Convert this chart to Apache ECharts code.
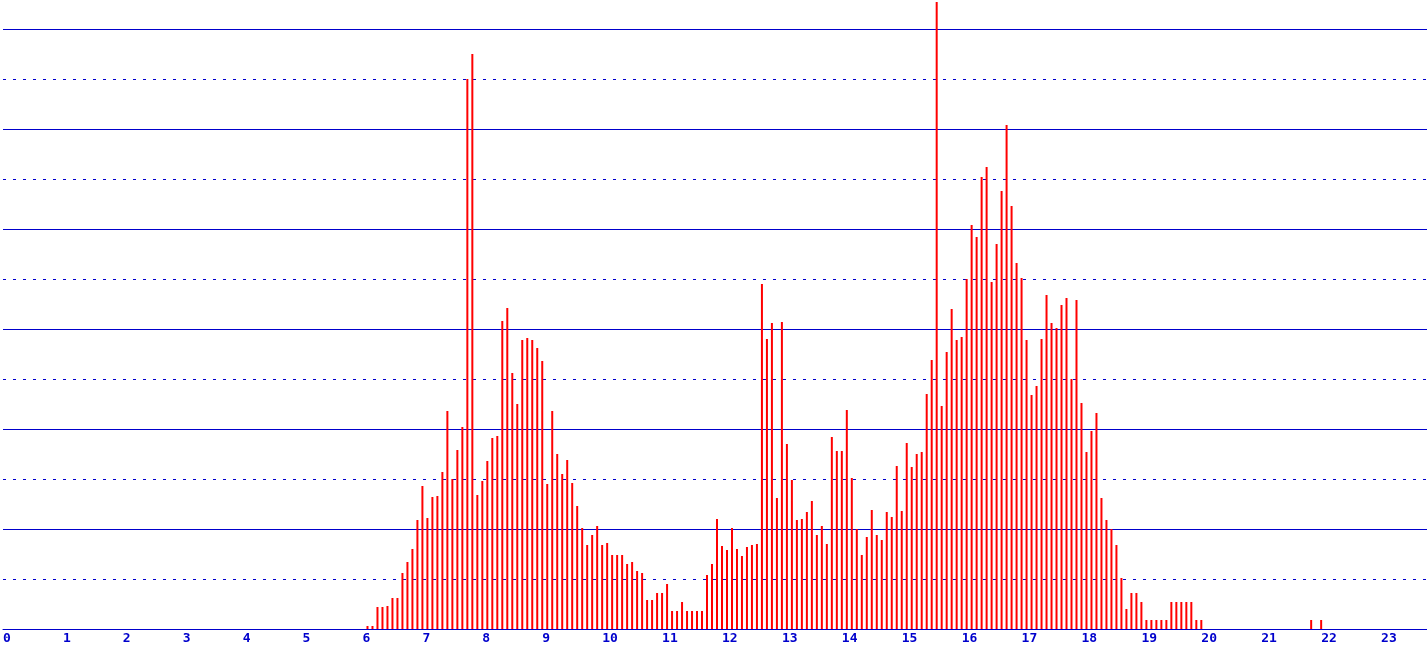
<!DOCTYPE html>
<html>
<head>
<meta charset="utf-8">
<script src="https://cdn.jsdelivr.net/npm/echarts@6/dist/echarts.min.js"></script>
<style>
html,body{margin:0;padding:0;background:#fff;}
#chart{width:1427px;height:649px;}
</style>
</head>
<body>
<div id="chart"></div>
<script>
// Five-minute bins, 12 per hour (bin starts :00, :05, ... :55)
const binMinutes = 5;
const hours = [6, 7, 8, 9, 10, 11, 12, 13, 14, 15, 16, 17, 18, 19, 20, 21];
const h06 = [3, 3, 22, 22, 23, 31, 31, 56, 67, 80, 109, 143];
const h07 = [111, 132, 133, 157, 218, 150, 179, 202, 550, 575, 134, 148];
const h08 = [168, 191, 193, 308, 321, 256, 225, 289, 291, 289, 281, 268];
const h09 = [145, 218, 175, 155, 169, 146, 123, 101, 84, 94, 103, 84];
const h10 = [86, 74, 74, 74, 65, 67, 58, 56, 29, 29, 36, 36];
const h11 = [45, 18, 18, 27, 18, 18, 18, 18, 54, 65, 110, 83];
const h12 = [79, 101, 80, 73, 82, 84, 85, 345, 290, 306, 131, 307];
const h13 = [185, 149, 109, 110, 117, 128, 94, 103, 85, 192, 178, 178];
const h14 = [219, 151, 100, 74, 92, 119, 94, 89, 117, 112, 163, 118];
const h15 = [186, 162, 175, 177, 235, 269, 627, 223, 277, 320, 289, 292];
const h16 = [350, 404, 392, 452, 462, 347, 385, 438, 504, 423, 366, 351];
const h17 = [289, 234, 243, 290, 334, 306, 301, 324, 331, 250, 329, 226];
const h18 = [177, 198, 216, 131, 109, 100, 84, 51, 20, 36, 36, 27];
const h19 = [9, 9, 9, 9, 9, 27, 27, 27, 27, 27, 9, 9];
const h20 = [0, 0, 0, 0, 0, 0, 0, 0, 0, 0, 0, 0];
const h21 = [0, 0, 0, 0, 0, 0, 0, 0, 0, 9, 0, 9];
const hourlyValues = [h06, h07, h08, h09, h10, h11, h12, h13, h14, h15, h16, h17, h18, h19, h20, h21];
const tickLabels = ['0','1','2','3','4','5','6','7','8','9','10','11','12','13','14','15','16','17','18','19','20','21','22','23'];

// each bar is placed at its bin's end time (minutes of day)
const barData = [];
hours.forEach(function (h, i) {
  hourlyValues[i].forEach(function (v, k) {
    barData.push([h * 60 + (k + 1) * binMinutes, v]);
  });
});

const blue = '#0000cc';
const chart = echarts.init(document.getElementById('chart'), null, {renderer: 'canvas'});
chart.setOption({
  animation: false,
  backgroundColor: '#ffffff',
  grid: {left: 1, right: 0, top: 29, bottom: 20, containLabel: false},
  xAxis: {
    type: 'value',
    min: 0,
    max: 1426,
    interval: 60,
    axisLine: {show: true, lineStyle: {color: blue, width: 1}},
    axisTick: {show: false},
    splitLine: {show: false},
    axisLabel: {
      show: true,
      showMaxLabel: false,
      align: 'left',
      margin: 3,
      color: blue,
      fontFamily: 'DejaVu Sans Mono',
      fontWeight: 'bold',
      fontSize: 13,
      formatter: function (v) {
        if (v % 60 !== 0) return '';
        const idx = v / 60;
        return tickLabels[idx] !== undefined ? tickLabels[idx] : '';
      }
    }
  },
  yAxis: {
    type: 'value',
    min: 0,
    max: 600,
    interval: 100,
    axisLine: {show: false},
    axisTick: {show: false},
    axisLabel: {show: false},
    splitLine: {show: true, lineStyle: {color: blue, width: 1, type: 'solid'}},
    minorTick: {show: false, splitNumber: 2},
    minorSplitLine: {show: true, lineStyle: {color: blue, width: 1, type: [3, 7]}}
  },
  series: [{
    type: 'bar',
    data: barData,
    barWidth: 2,
    clip: false,
    itemStyle: {color: '#ff0000'},
    emphasis: {disabled: true}
  }]
});
</script>
</body>
</html>
